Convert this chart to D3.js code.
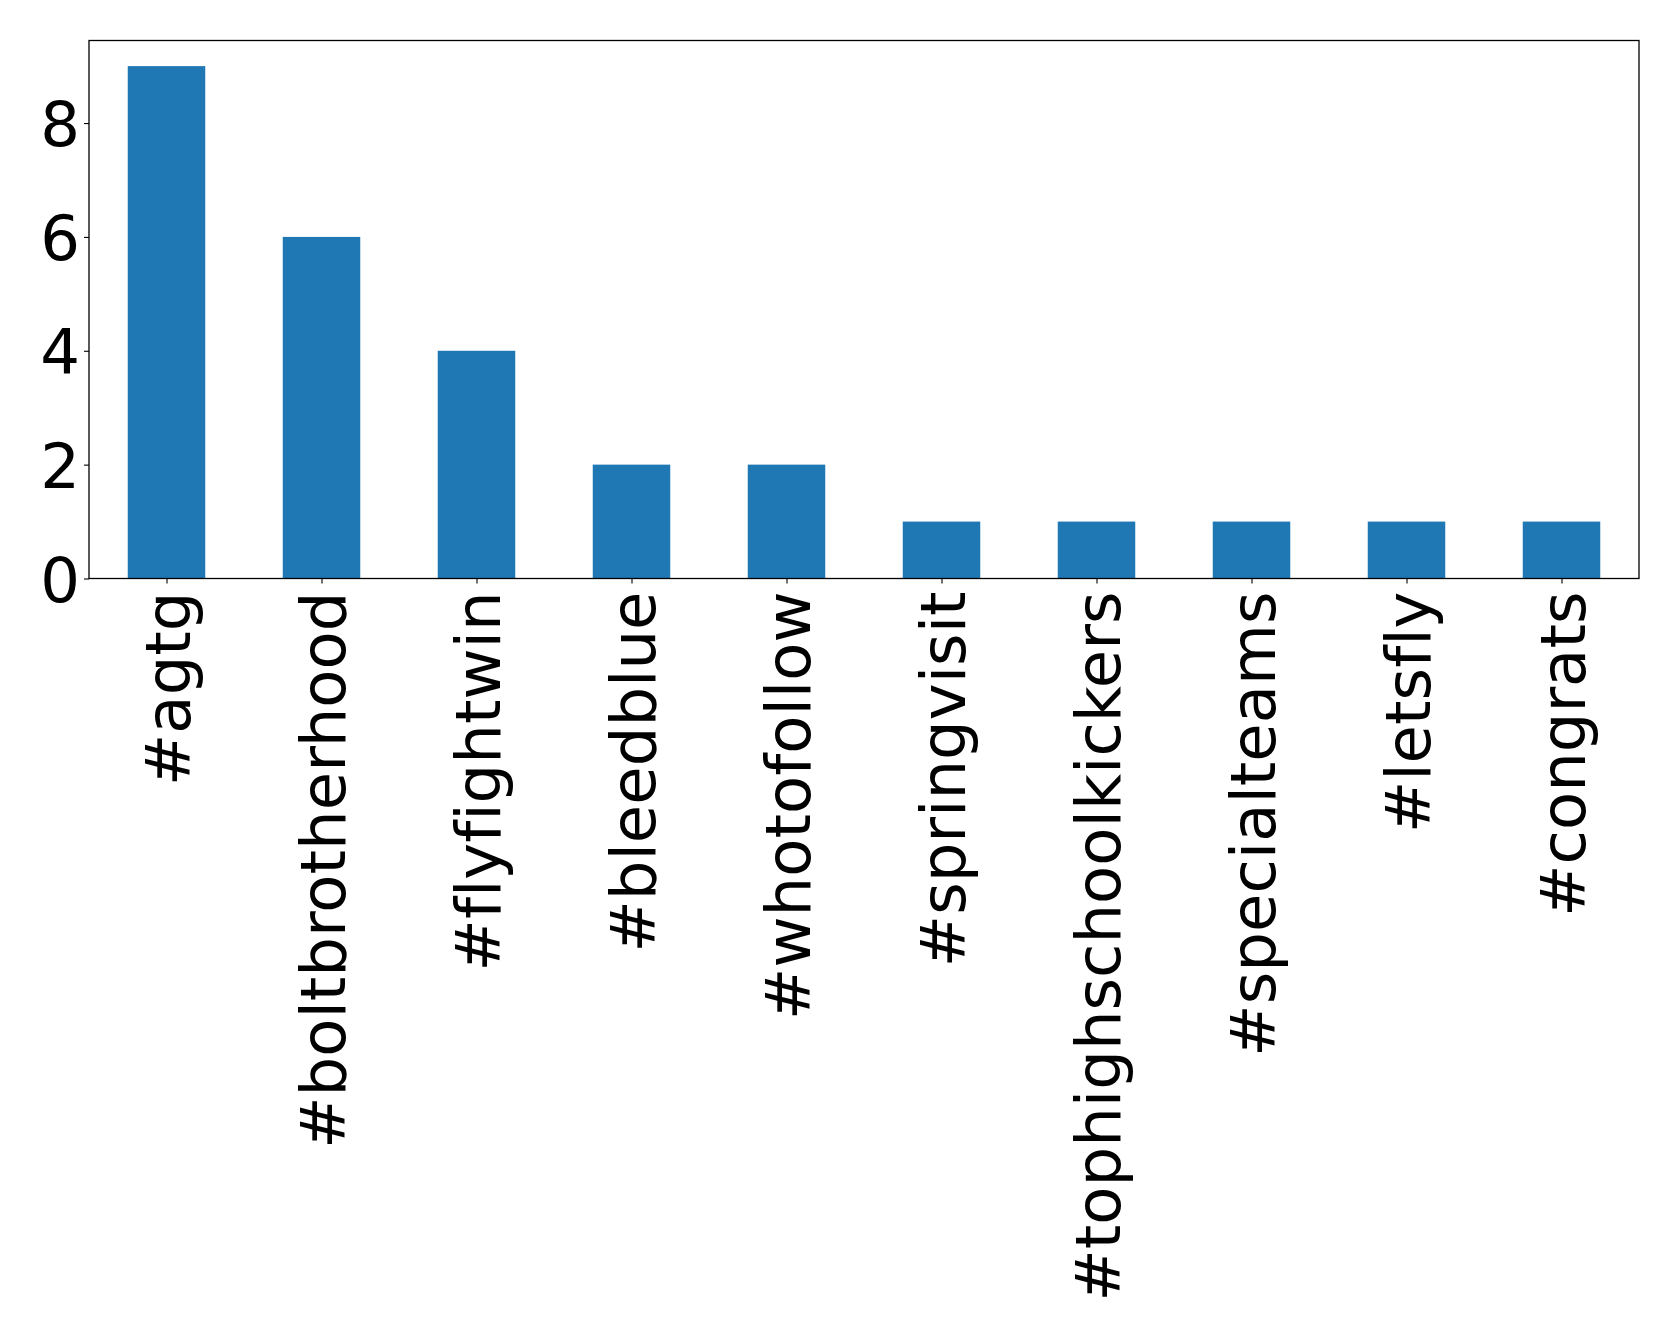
<!DOCTYPE html>
<html><head><meta charset="utf-8">
<script src="https://cdn.jsdelivr.net/npm/d3@7"></script>
<style>body{margin:0;background:#fff}svg{display:block}text{font-family:"DejaVu Sans",sans-serif;font-variant-ligatures:none;font-feature-settings:"liga" 0,"clig" 0}</style>
</head><body>
<script>
const categories = ["#agtg","#boltbrotherhood","#flyfightwin","#bleedblue","#whotofollow","#springvisit","#tophighschoolkickers","#specialteams","#letsfly","#congrats"];
const values = [9,6,4,2,2,1,1,1,1,1];
const yTicks = [0,2,4,6,8];

(function(){
const W = 1679, H = 1338;
const mLeft = 89, mRight = 1639, mTop = 40.5, mBottom = 578.5;
const svg = d3.select("body").append("svg").attr("width",W).attr("height",H);

const x = d3.scaleLinear().domain([-0.5, categories.length-0.5]).range([mLeft,mRight]);
const y = d3.scaleLinear().domain([0, 9*1.05]).range([mBottom,mTop]);

svg.selectAll("rect.bar").data(values).enter().append("rect")
  .attr("class","bar")
  .attr("x",(d,i)=>x(i-0.25)).attr("width",(d,i)=>x(i+0.25)-x(i-0.25))
  .attr("y",d=>y(d)).attr("height",d=>y(0)-y(d))
  .attr("fill","#1f77b4");

const fs = 62.5;
const yAxis = d3.axisLeft(y).tickValues(yTicks).tickSize(5).tickPadding(4).tickFormat(d3.format("d"));
const gy = svg.append("g").attr("transform",`translate(${mLeft},0)`).call(yAxis);
gy.select(".domain").remove();
gy.selectAll("text").attr("font-size",fs).attr("fill","#000").attr("font-family","DejaVu Sans").attr("dy","0.36em");
gy.selectAll("line").attr("stroke","#000").attr("stroke-width",1.1);

const xAxis = d3.axisBottom(x).tickValues(d3.range(categories.length)).tickSize(5).tickFormat(i=>categories[i]);
const gx = svg.append("g").attr("transform",`translate(0,${mBottom})`).call(xAxis);
gx.select(".domain").remove();
gx.selectAll("line").attr("stroke","#000").attr("stroke-width",1.1);
gx.selectAll("text")
  .attr("font-size",fs).attr("fill","#000").attr("font-family","DejaVu Sans")
  .attr("text-anchor","end").attr("dy","0.36em").attr("y",0).attr("x",0)
  .attr("transform","translate(0,13) rotate(-90)");

svg.append("rect").attr("x",mLeft).attr("y",mTop).attr("width",mRight-mLeft).attr("height",mBottom-mTop)
  .attr("fill","none").attr("stroke","#000").attr("stroke-width",1.3);
})();
</script>
</body></html>
